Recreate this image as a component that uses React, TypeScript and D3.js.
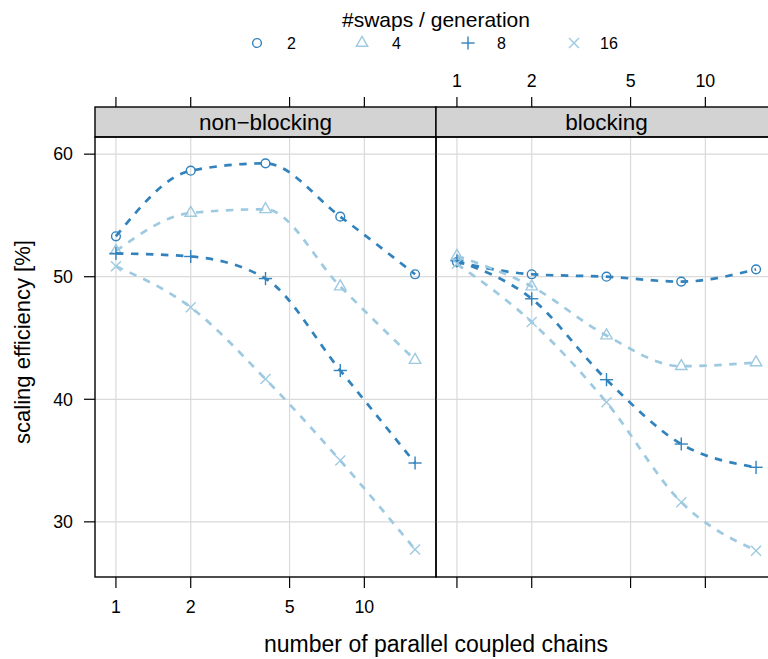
import React from "react";
import * as d3 from "d3";

const chains = [1, 2, 4, 8, 16];
const panels = ["non\u2212blocking", "blocking"];
const swaps = ["2", "4", "8", "16"];
const seriesColors = ["#3182BD", "#9ECAE1", "#3182BD", "#9ECAE1"];
const seriesSymbols = ["circle", "triangle", "plus", "cross"];

// non-blocking panel
const nb2 = [53.3, 58.65, 59.25, 54.9, 50.2];
const nb4 = [52.1, 55.2, 55.5, 49.2, 43.2];
const nb8 = [51.9, 51.65, 49.85, 42.35, 34.8];
const nb16 = [50.85, 47.5, 41.65, 35.0, 27.75];
// blocking panel
const bl2 = [51.2, 50.2, 50.0, 49.6, 50.6];
const bl4 = [51.7, 49.2, 45.2, 42.7, 43.0];
const bl8 = [51.3, 48.2, 41.6, 36.35, 34.45];
const bl16 = [51.05, 46.3, 39.75, 31.6, 27.65];

const xTicks = [1, 2, 5, 10];
const yTicks = [30, 40, 50, 60];

const panelData = [
  [nb2, nb4, nb8, nb16],
  [bl2, bl4, bl8, bl16],
];

const FONT = "'Liberation Sans', Arial, Helvetica, sans-serif";

function Symbol({ type, x, y, color }: { type: string; x: number; y: number; color: string }) {
  const sw = 1.4;
  if (type === "circle")
    return <circle cx={x} cy={y} r={4.4} fill="none" stroke={color} strokeWidth={sw} />;
  if (type === "triangle") {
    const r = 6.6;
    const hx = r * Math.sqrt(3) / 2;
    return (
      <polygon
        points={`${x},${y - r} ${x + hx},${y + r / 2} ${x - hx},${y + r / 2}`}
        fill="none"
        stroke={color}
        strokeWidth={sw}
      />
    );
  }
  if (type === "plus") {
    const a = 6.6;
    return (
      <g stroke={color} strokeWidth={sw}>
        <line x1={x - a} y1={y} x2={x + a} y2={y} />
        <line x1={x} y1={y - a} x2={x} y2={y + a} />
      </g>
    );
  }
  const a = 5;
  return (
    <g stroke={color} strokeWidth={sw}>
      <line x1={x - a} y1={y - a} x2={x + a} y2={y + a} />
      <line x1={x - a} y1={y + a} x2={x + a} y2={y - a} />
    </g>
  );
}

export default function App() {
  const W = 768;
  const H = 659;
  const panelW = 341;
  const left0 = 95;
  const top = 137;
  const bottom = 577;
  const stripTop = 107;
  const y = d3.scaleLinear().domain([25.5, 61.4]).range([bottom, top]);
  const lo = Math.pow(2, -0.28);
  const hi = Math.pow(2, 4.28);

  return (
    <svg width={W} height={H} style={{ display: "block", position: "absolute", left: 0, top: 0 }} fontFamily={FONT}>
      <rect x={0} y={0} width={W} height={H} fill="white" />
      {/* legend */}
      <text x={436} y={27} textAnchor="middle" fontSize={21}>#swaps / generation</text>
      {swaps.map((s, i) => {
        const sx = [257, 362, 468, 574][i];
        const tx = [287, 392, 497, 600][i];
        return (
          <g key={s}>
            <Symbol type={seriesSymbols[i]} x={sx} y={43} color={seriesColors[i]} />
            <text x={tx} y={48.5} fontSize={16}>{s}</text>
          </g>
        );
      })}

      {panels.map((p, pi) => {
        const x0 = left0 + pi * panelW;
        const x = d3.scaleLog().base(2).domain([lo, hi]).range([x0, x0 + panelW]);
        const line = d3
          .line<number>()
          .x((_, i) => x(chains[i]))
          .y((d) => y(d))
          .curve(d3.curveMonotoneX);
        return (
          <g key={p}>
            {/* grid */}
            {xTicks.map((t) => (
              <line key={"gx" + t} x1={x(t)} x2={x(t)} y1={top} y2={bottom} stroke="#DADADA" strokeWidth={1.2} />
            ))}
            {yTicks.map((t) => (
              <line key={"gy" + t} x1={x0} x2={x0 + panelW} y1={y(t)} y2={y(t)} stroke="#DADADA" strokeWidth={1.2} />
            ))}
            {/* series */}
            {panelData[pi].map((vals, si) => (
              <g key={si}>
                <path d={line(vals) || ""} fill="none" stroke={seriesColors[si]} strokeWidth={2.7} strokeDasharray="7.5,7.5" />
                {vals.map((v, k) => (
                  <Symbol key={k} type={seriesSymbols[si]} x={x(chains[k])} y={y(v)} color={seriesColors[si]} />
                ))}
              </g>
            ))}
            {/* strip */}
            <rect x={x0} y={stripTop} width={panelW} height={top - stripTop} fill="#D3D3D3" stroke="black" strokeWidth={1.4} />
            <text x={x0 + panelW / 2} y={(stripTop + top) / 2 + 7.8} textAnchor="middle" fontSize={22.5}>{p}</text>
            {/* panel border */}
            <rect x={x0} y={top} width={panelW} height={bottom - top} fill="none" stroke="black" strokeWidth={1.4} />
            {/* x ticks: labels bottom for left panel, top for right panel; ticks both sides */}
            {xTicks.map((t) => (
              <g key={"tx" + t}>
                <line x1={x(t)} x2={x(t)} y1={bottom} y2={bottom + 11} stroke="black" strokeWidth={1.2} />
                <line x1={x(t)} x2={x(t)} y1={stripTop} y2={stripTop - 10} stroke="black" strokeWidth={1.2} />
                {pi === 0 ? (
                  <text x={x(t)} y={613} textAnchor="middle" fontSize={17.8}>{t}</text>
                ) : (
                  <text x={x(t)} y={87} textAnchor="middle" fontSize={17.8}>{t}</text>
                )}
              </g>
            ))}
          </g>
        );
      })}

      {/* y axis */}
      {yTicks.map((t) => (
        <g key={"ty" + t}>
          <line x1={left0 - 11} x2={left0} y1={y(t)} y2={y(t)} stroke="black" strokeWidth={1.2} />
          <text x={73} y={y(t)} dy="0.35em" textAnchor="end" fontSize={17.8}>{t}</text>
        </g>
      ))}
      <text transform={`translate(30,342) rotate(-90)`} textAnchor="middle" fontSize={22}>scaling efficiency [%]</text>
      <text x={436} y={652} textAnchor="middle" fontSize={23}>number of parallel coupled chains</text>
    </svg>
  );
}
